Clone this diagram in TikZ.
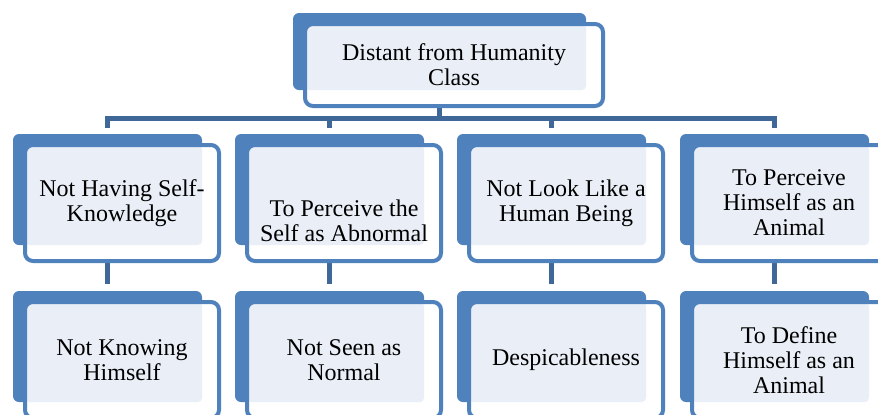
\documentclass[tikz,border=0pt]{standalone}
\usepackage{fontspec}
\setmainfont{Liberation Serif}
\usetikzlibrary{backgrounds}
\definecolor{cardblue}{HTML}{4F81BD}
\definecolor{cardlight}{HTML}{EAEFF7}
\definecolor{linkblue}{HTML}{3F6898}
\begin{document}
\begin{tikzpicture}[x=0.5pt, y=-0.5pt,
    card/.style={rectangle, draw=cardblue, line width=2pt, fill=white, rounded corners=4pt,
      inner sep=0pt, outer sep=0pt, minimum width=97pt, minimum height=58pt, align=center,
      font=\fontsize{12}{12.5}\selectfont,
      path picture={\fill[cardlight, rounded corners=2pt] (path picture bounding box.north west)
        rectangle ([shift={(-17,-16)}]path picture bounding box.south east);}},
    back/.style={fill=cardblue, rounded corners=3pt},
    link/.style={draw=linkblue, line width=2.5pt}]
   \useasboundingbox (0,0) rectangle (878,414);
   \node[card, minimum width=149pt, minimum height=41pt] (top) at (454,65) {Distant from Humanity\\Class};
   \node[card] (A1) at (122,203) {Not Having Self-\\Knowledge};
   \node[card] (B1) at (344,203) {\rule{0pt}{26pt}To Perceive the\\Self as Abnormal};
   \node[card] (C1) at (566,203) {Not Look Like a\\Human Being};
   \node[card] (D1) at (789,203) {To Perceive\\Himself as an\\Animal};
   \node[card] (A2) at (122,360) {Not Knowing\\Himself};
   \node[card] (B2) at (344,360) {Not Seen as\\Normal};
   \node[card] (C2) at (566,360) {Despicableness};
   \node[card] (D2) at (789,360) {To Define\\Himself as an\\Animal};
   \begin{scope}[on background layer]
      % tree lines
      \draw[link, shorten <=8.5pt] ([xshift=-7.25pt]A1.north) -- ++(0,-27) -| ([xshift=-7.25pt]top.south);
      \draw[link, shorten <=8.5pt] ([xshift=-7.25pt]B1.north) -- ++(0,-27) -| ([xshift=-7.25pt]top.south);
      \draw[link, shorten <=8.5pt] ([xshift=-7.25pt]C1.north) -- ++(0,-27) -| ([xshift=-7.25pt]top.south);
      \draw[link, shorten <=8.5pt] ([xshift=-7.25pt]D1.north) -- ++(0,-27) -| ([xshift=-7.25pt]top.south);
      \draw[link, shorten >=9pt] ([xshift=-7.25pt]A1.south) -- ([xshift=-7.25pt]A2.north);
      \draw[link, shorten >=9pt] ([xshift=-7.25pt]B1.south) -- ([xshift=-7.25pt]B2.north);
      \draw[link, shorten >=9pt] ([xshift=-7.25pt]C1.south) -- ([xshift=-7.25pt]C2.north);
      \draw[link, shorten >=9pt] ([xshift=-7.25pt]D1.south) -- ([xshift=-7.25pt]D2.north);
      % blue cards behind
      \fill[back] ([shift={(-12,-11)}]top.north west) rectangle ([shift={(-17,-16)}]top.south east);
      \fill[back] ([shift={(-12,-11)}]A1.north west) rectangle ([shift={(-17,-16)}]A1.south east);
      \fill[back] ([shift={(-12,-11)}]B1.north west) rectangle ([shift={(-17,-16)}]B1.south east);
      \fill[back] ([shift={(-12,-11)}]C1.north west) rectangle ([shift={(-17,-16)}]C1.south east);
      \fill[back] ([shift={(-12,-11)}]D1.north west) rectangle ([shift={(-17,-16)}]D1.south east);
      \fill[back] ([shift={(-12,-11)}]A2.north west) rectangle ([shift={(-17,-16)}]A2.south east);
      \fill[back] ([shift={(-12,-11)}]B2.north west) rectangle ([shift={(-17,-16)}]B2.south east);
      \fill[back] ([shift={(-12,-11)}]C2.north west) rectangle ([shift={(-17,-16)}]C2.south east);
      \fill[back] ([shift={(-12,-11)}]D2.north west) rectangle ([shift={(-17,-16)}]D2.south east);
   \end{scope}
\end{tikzpicture}
\end{document}
